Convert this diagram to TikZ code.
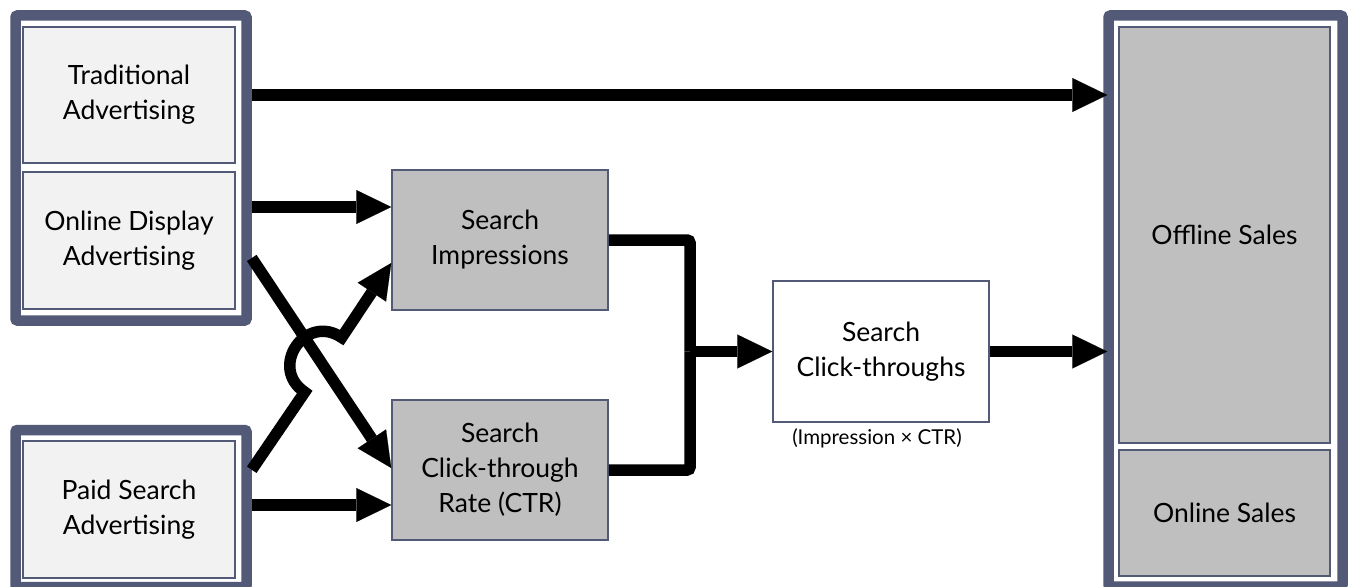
\documentclass[tikz,border=0pt]{standalone}
\usepackage{fontspec}
\setmainfont{Lato}
\usetikzlibrary{arrows.meta,calc}
\definecolor{slate}{HTML}{525A78}
\definecolor{lightbox}{HTML}{F2F2F2}
\definecolor{graybox}{HTML}{BFBFBF}
\begin{document}
\begin{tikzpicture}[x=1pt,y=-1pt,
  container/.style={draw=slate, fill=white, line width=10.5pt, rounded corners=2pt, inner sep=0pt},
  box/.style={draw=slate, line width=1.5pt, inner sep=0pt, align=center,
    font=\fontsize{26.5}{35}\selectfont},
  srcbox/.style={box, fill=lightbox, minimum width=212pt},
  graynode/.style={box, fill=graybox},
  conn/.style={line width=11.5pt, -{Triangle[length=35pt,width=34pt,line width=0.1pt]}},
  plain/.style={line width=11.5pt, rounded corners=3pt}]
\useasboundingbox (0,0) rectangle (1348,586);
\clip (0,0) rectangle (1348,586);
% containers
\node[container, minimum width=231pt, minimum height=305pt] (cont1) at (131,168) {};
\node[container, minimum width=231pt, minimum height=157pt] (cont2) at (131,508.5) {};
\node[container, minimum width=234pt, minimum height=571pt] (cont3) at (1225.5,301) {};
% source boxes
\node[srcbox, minimum height=136pt] (trad) at (129,95) {Traditional\\Advertising};
\node[srcbox, minimum height=137pt] (disp) at (129,240.5) {Online Display\\Advertising};
\node[srcbox, minimum height=137pt] (paid) at (129,509.5) {Paid Search\\Advertising};
% middle boxes
\node[graynode, minimum width=216pt, minimum height=140pt] (imp) at (500,240) {Search\\Impressions};
\node[graynode, minimum width=216pt, minimum height=140pt] (ctr) at (500,470) {Search\\Click-through\\Rate (CTR)};
\node[box, fill=white, minimum width=216pt, minimum height=141pt] (clk) at (881,351.5) {Search\\Click-throughs};
\node[font=\fontsize{20.5}{24}\selectfont, inner sep=0pt] (formula) at ($(clk.south)+(-4,16)$) {(Impression × CTR)};
% sales boxes
\node[graynode, minimum width=211pt, minimum height=416pt] (off) at (1224.5,235) {Offline Sales};
\node[graynode, minimum width=211pt, minimum height=126pt] (onl) at (1224.5,513) {Online Sales};
% connectors
\draw[conn, shorten >=-4pt] (cont1.east |- trad) -- (cont3.west |- trad);
\coordinate (impA) at ($(imp.west)+(0,-33)$);
\draw[conn] (cont1.east |- impA) -- (impA);
\draw[conn] ($(cont1.east)+(0,90)$) -- ($(ctr.west)+(0,-2)$);
\coordinate (ctrA) at ($(ctr.west)+(0,35)$);
\draw[conn] (cont2.east |- ctrA) -- (ctrA);
% paid -> impressions with hop
\coordinate (h1) at (304.7,392.1);
\coordinate (h2) at (341.7,337.5);
\draw[conn] ($(cont2.north east)+(0,45)$) -- (h1)
  .. controls (268.3,367.5) and (305.3,312.9) .. (h2) -- ($(imp.west)+(0,23)$);
% to click-throughs
\coordinate (j) at (690,351.5);
\draw[plain] (imp.east) -| (j);
\draw[plain] (ctr.east) -| (j);
\draw[conn] (j) -- (clk.west);
\draw[conn, shorten >=-4pt] (clk.east) -- (cont3.west |- clk.east);
\end{tikzpicture}
\end{document}
